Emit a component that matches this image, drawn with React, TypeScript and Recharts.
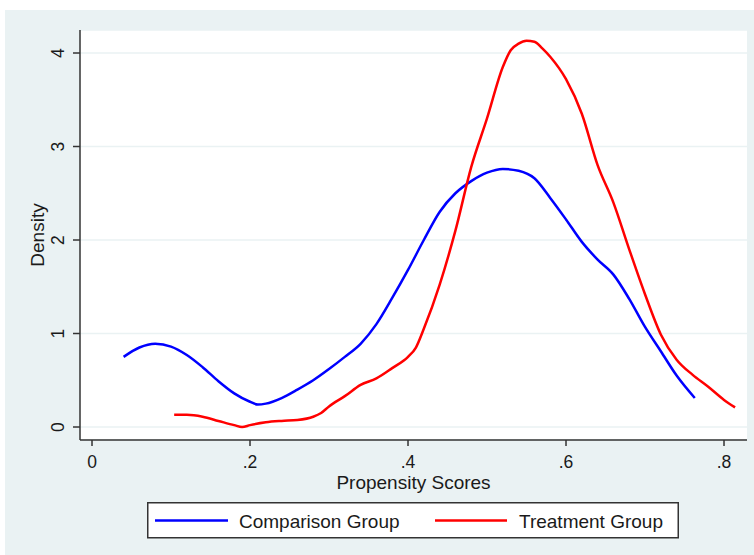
import React from "react";
import { LineChart, Line, XAxis, YAxis, CartesianGrid } from "recharts";

// Comparison group kernel density (x = propensity score, y = density)
const compX = [0.04, 0.06, 0.08, 0.10, 0.12, 0.14, 0.16, 0.18, 0.20, 0.21, 0.22, 0.24, 0.26, 0.28, 0.30, 0.32, 0.34, 0.36, 0.38, 0.40, 0.42, 0.44, 0.46, 0.48, 0.50, 0.52, 0.54, 0.56, 0.58, 0.60, 0.62, 0.64, 0.66, 0.68, 0.70, 0.72, 0.74, 0.763];
const compY = [0.75, 0.85, 0.89, 0.86, 0.77, 0.64, 0.49, 0.36, 0.27, 0.24, 0.25, 0.31, 0.40, 0.50, 0.62, 0.75, 0.89, 1.10, 1.38, 1.68, 2.0, 2.30, 2.50, 2.63, 2.72, 2.76, 2.74, 2.66, 2.45, 2.22, 1.98, 1.79, 1.63, 1.37, 1.07, 0.81, 0.55, 0.31];

// Treatment group kernel density
const treatX = [0.104, 0.12, 0.14, 0.16, 0.18, 0.19, 0.20, 0.22, 0.24, 0.26, 0.28, 0.29, 0.30, 0.32, 0.34, 0.36, 0.38, 0.40, 0.41, 0.42, 0.44, 0.46, 0.48, 0.50, 0.52, 0.53, 0.54, 0.55, 0.56, 0.57, 0.58, 0.60, 0.62, 0.64, 0.66, 0.68, 0.70, 0.72, 0.74, 0.76, 0.78, 0.80, 0.814];
const treatY = [0.13, 0.13, 0.11, 0.065, 0.02, 0.0, 0.02, 0.05, 0.065, 0.075, 0.11, 0.15, 0.22, 0.33, 0.45, 0.52, 0.63, 0.75, 0.85, 1.05, 1.52, 2.10, 2.78, 3.30, 3.85, 4.03, 4.10, 4.13, 4.12, 4.05, 3.96, 3.72, 3.35, 2.80, 2.40, 1.90, 1.42, 0.99, 0.72, 0.56, 0.43, 0.29, 0.21];

const xTicks = [0, 0.2, 0.4, 0.6, 0.8];
const xTickLabels = ["0", ".2", ".4", ".6", ".8"];
const yTicks = [0, 1, 2, 3, 4];
const yTickLabels = ["0", "1", "2", "3", "4"];

const seriesNames = ["Comparison Group", "Treatment Group"];
const xTitle = "Propensity Scores";
const yTitle = "Density";

const compData = compX.map((x, i) => ({ x, y: compY[i] }));
const treatData = treatX.map((x, i) => ({ x, y: treatY[i] }));

const FONT = "'Liberation Sans', Arial, Helvetica, sans-serif";
const TXT = "#1a1a1a";
const AXIS = "#333333";
const BLUE = "#0000ff";
const RED = "#ff0000";

const XTick = (p: any) => {
  const idx = xTicks.indexOf(p.payload.value);
  return (
    <text x={p.x} y={p.y + 20} textAnchor="middle" fontFamily={FONT} fontSize={17.5} fill={TXT}>
      {idx >= 0 ? xTickLabels[idx] : p.payload.value}
    </text>
  );
};

const YTick = (p: any) => {
  const idx = yTicks.indexOf(p.payload.value);
  const bx = p.x - 7;
  return (
    <text
      x={bx}
      y={p.y}
      transform={`rotate(-90 ${bx} ${p.y})`}
      textAnchor="middle"
      fontFamily={FONT}
      fontSize={17.5}
      fill={TXT}
    >
      {idx >= 0 ? yTickLabels[idx] : p.payload.value}
    </text>
  );
};

const renderYTitle = (props: any) => {
  const vb = props.viewBox || { x: 0, y: 30, width: 80, height: 410 };
  const cx = vb.x + 44;
  const cy = vb.y + vb.height / 2;
  return (
    <text x={cx} y={cy} transform={`rotate(-90 ${cx} ${cy})`} textAnchor="middle" fontFamily={FONT} fontSize={19} fill={TXT}>
      {yTitle}
    </text>
  );
};

const renderXTitle = (props: any) => {
  const vb = props.viewBox || { x: 80, y: 440, width: 667, height: 115 };
  return (
    <text x={vb.x + vb.width / 2} y={vb.y + 49} textAnchor="middle" fontFamily={FONT} fontSize={19} fill={TXT}>
      {xTitle}
    </text>
  );
};

export default function App() {
  return (
    <div style={{ position: "absolute", left: 0, top: 0, width: 754, height: 555, background: "#ffffff", overflow: "hidden" }}>
      <div style={{ position: "absolute", left: 5, top: 10, width: 749, height: 545, background: "#eaf2f3" }} />
      <div style={{ position: "absolute", left: 0, top: 0 }}>
        <LineChart width={754} height={555} margin={{ top: 30, right: 7, left: 0, bottom: 0 }}>
          <CartesianGrid fill="#ffffff" vertical={false} stroke="#eaf2f3" strokeWidth={1.5} />
          <XAxis
            type="number"
            dataKey="x"
            domain={[-0.0152, 0.8291]}
            ticks={xTicks}
            allowDataOverflow
            height={115}
            tickSize={6}
            tickMargin={2}
            axisLine={{ stroke: AXIS, strokeWidth: 1.5 }}
            tickLine={{ stroke: AXIS, strokeWidth: 1.5 }}
            tick={<XTick />}
            label={renderXTitle}
          />
          <YAxis
            type="number"
            dataKey="y"
            domain={[-0.139, 4.246]}
            ticks={yTicks}
            allowDataOverflow
            width={80}
            tickSize={7}
            tickMargin={2}
            axisLine={{ stroke: AXIS, strokeWidth: 1.5 }}
            tickLine={{ stroke: AXIS, strokeWidth: 1.5 }}
            tick={<YTick />}
            label={renderYTitle}
          />
          <Line
            data={compData}
            dataKey="y"
            name={seriesNames[0]}
            type="monotone"
            stroke={BLUE}
            strokeWidth={2.5}
            dot={false}
            activeDot={false}
            isAnimationActive={false}
          />
          <Line
            data={treatData}
            dataKey="y"
            name={seriesNames[1]}
            type="monotone"
            stroke={RED}
            strokeWidth={2.5}
            dot={false}
            activeDot={false}
            isAnimationActive={false}
          />
        </LineChart>
      </div>
      <svg style={{ position: "absolute", left: 147, top: 502 }} width={532} height={37}>
        <rect x={0.75} y={0.75} width={530.5} height={35} fill="#ffffff" stroke={AXIS} strokeWidth={1.5} />
        <line x1={8} x2={81} y1={18.5} y2={18.5} stroke={BLUE} strokeWidth={2.5} />
        <text x={92} y={26} fontFamily={FONT} fontSize={19} fill={TXT}>{seriesNames[0]}</text>
        <line x1={288} x2={360} y1={18.5} y2={18.5} stroke={RED} strokeWidth={2.5} />
        <text x={372} y={26} fontFamily={FONT} fontSize={19} fill={TXT}>{seriesNames[1]}</text>
      </svg>
    </div>
  );
}
